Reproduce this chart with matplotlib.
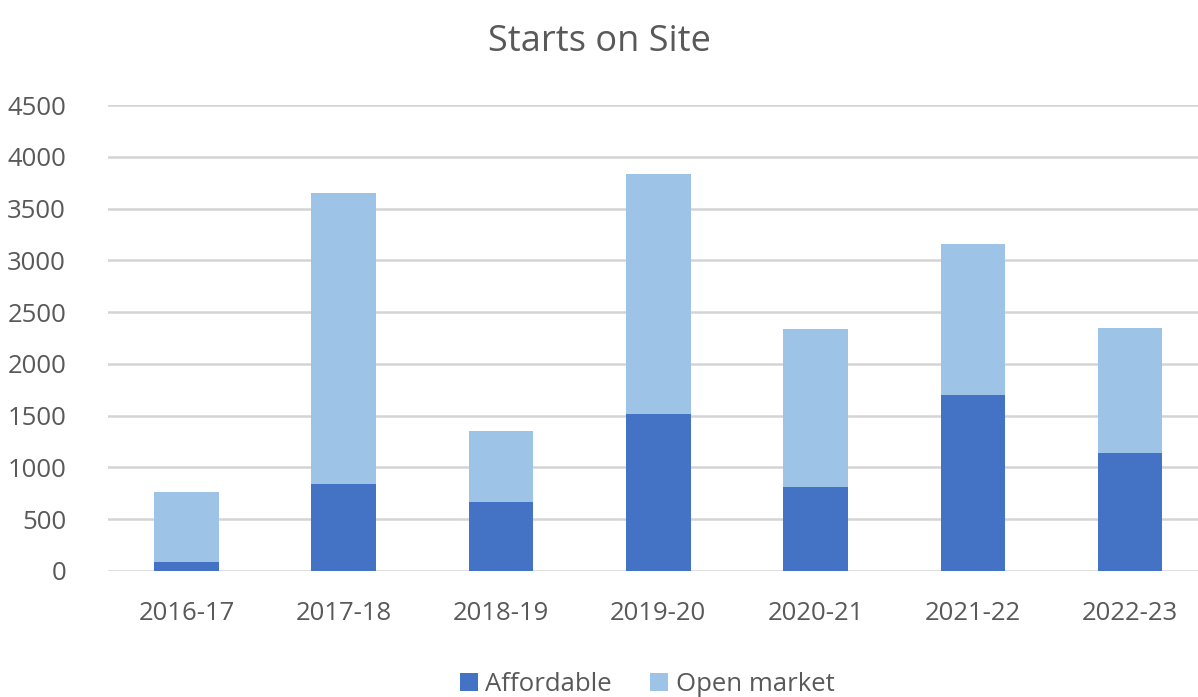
import matplotlib.pyplot as plt
import numpy as np

plt.rcParams['font.family'] = ['Open Sans', 'DejaVu Sans']

# Starts on site by year
years = ['2016-17', '2017-18', '2018-19', '2019-20', '2020-21', '2021-22', '2022-23']
affordable = [90, 840, 665, 1520, 810, 1695, 1140]
total = [760, 3650, 1350, 3835, 2340, 3160, 2350]
open_market = [t - a for t, a in zip(total, affordable)]

fig = plt.figure(figsize=(11.98, 6.97), dpi=100)
ax = fig.add_axes([0.090, 0.181, 0.919, 0.668])

x = np.arange(len(years))
ax.bar(x, affordable, width=0.41, color='#4472C4', label='Affordable', zorder=3)
ax.bar(x, open_market, width=0.41, bottom=affordable, color='#9DC3E6',
       label='Open market', zorder=3)

ax.set_xlim(-0.5, len(years) - 0.5)
ax.set_ylim(0, 4500)
ax.set_yticks(range(0, 4501, 500))
ax.set_xticks(x)
ax.set_xticklabels(years)
ax.tick_params(axis='both', length=0, labelsize=18.5, colors='#595959')
ax.tick_params(axis='y', pad=30)
ax.tick_params(axis='x', pad=22)

ax.grid(axis='y', color='#D4D4D4', linewidth=1.8, zorder=0)
for s in ax.spines.values():
    s.set_visible(False)

fig.suptitle('Starts on Site', y=0.965, fontsize=26, color='#595959')

ax.legend(loc='lower center', bbox_to_anchor=(0.5 - 0.01, -0.32), ncol=2,
          frameon=False, fontsize=18.5, handlelength=0.7, handleheight=0.7,
          handletextpad=0.3, columnspacing=1.5, labelcolor='#595959')

plt.savefig('out.png')
